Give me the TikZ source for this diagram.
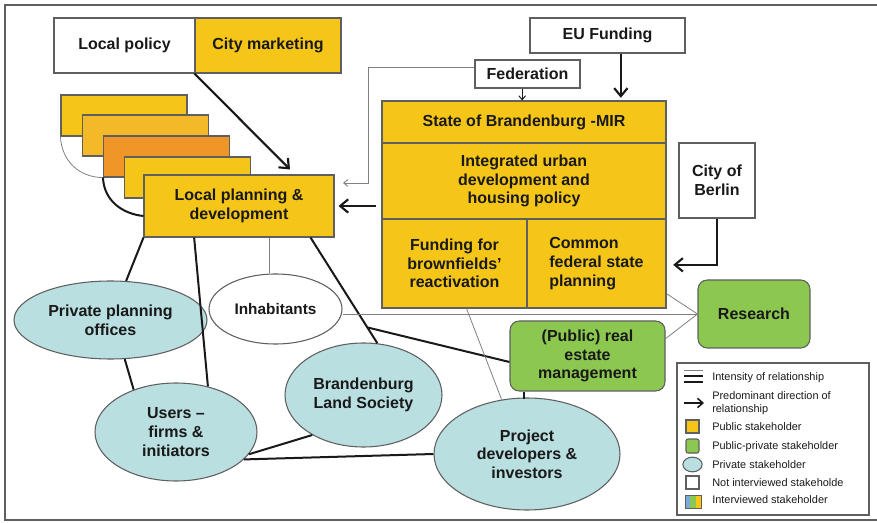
\documentclass[tikz,border=0pt]{standalone}
\usepackage{fontspec}
\setmainfont{Liberation Sans}
\usetikzlibrary{shapes.geometric,arrows.meta,calc}

\definecolor{pubyellow}{RGB}{245,198,24}
\definecolor{pubamber}{RGB}{243,185,40}
\definecolor{puborange}{RGB}{240,150,40}
\definecolor{ppgreen}{RGB}{140,200,80}
\definecolor{privblue}{RGB}{185,223,225}
\definecolor{stripeblue}{RGB}{120,170,220}
\definecolor{edgegray}{RGB}{95,95,95}
\definecolor{inkblack}{RGB}{25,25,25}

\tikzset{
  lbl/.style={font=\bfseries\fontsize{12}{14}\selectfont, text=inkblack, align=center},
  stakebox/.style={lbl, draw=edgegray, line width=0.8pt, inner sep=0pt},
  pubbox/.style={stakebox, fill=pubyellow},
  nonbox/.style={stakebox, fill=white},
  ppbox/.style={stakebox, fill=ppgreen, rounded corners=7pt},
  privell/.style={stakebox, ellipse, fill=privblue},
  strong/.style={line width=1.5pt, inkblack},
  weak/.style={line width=0.6pt, gray},
  bigarrow/.style={-{Straight Barb[length=6pt,width=10pt]}, line width=1.6pt, inkblack},
  thinarrow/.style={-{Straight Barb[length=3pt,width=5pt]}, line width=0.7pt},
  legtext/.style={font=\fontsize{8.2}{9.8}\selectfont, text=inkblack, anchor=west, align=left, inner sep=0pt}
}

\begin{document}
\begin{tikzpicture}[x=0.75pt,y=-0.75pt]
  \useasboundingbox (0,0) rectangle (877,523);
  % frame
  \draw[line width=1.1pt, edgegray] (877,5) -- (5,5) -- (5,520) -- (877,520);

  % top boxes
  \node[nonbox, minimum width=105.75pt, minimum height=41.25pt] (policy) at (124.5,45.5) {Local policy};
  \node[pubbox, minimum width=109.5pt, minimum height=41.25pt] (cm) at (268,45.5) {City marketing};
  \node[nonbox, minimum width=116.25pt, minimum height=26.25pt] (eu) at (607.5,35.5) {EU Funding};
  \node[nonbox, minimum width=78.75pt, minimum height=21pt] (fed) at (527.5,74) {Federation};

  % local planning stack
  \node[pubbox, minimum width=94.5pt, minimum height=30.75pt] (s1) at (124,115.5) {};
  \node[pubbox, fill=pubamber, minimum width=94.5pt, minimum height=30.75pt] (s2) at (145.5,135.5) {};
  \node[pubbox, fill=puborange, minimum width=94.5pt, minimum height=30.75pt] (s3) at (166.5,156.5) {};
  \node[pubbox, minimum width=94.5pt, minimum height=30.75pt] (s4) at (187.5,177.5) {};
  \node[pubbox, minimum width=142.5pt, minimum height=46.5pt] (lp) at (239,206) {Local planning \&\\development};
  \draw[weak] (s1.south west) .. controls +(1,24) and +(-24,0) .. (s3.south west);
  \draw[strong] (s3.south west) .. controls +(1,24) and +(-20,-2) .. ([yshift=-7.5pt]lp.west);

  % State of Brandenburg
  \node[pubbox, minimum width=213pt, minimum height=31.5pt] (mir) at (524,122) {State of Brandenburg -MIR};
  \node[pubbox, minimum width=213pt, minimum height=57pt] (integ) at (524,181) {Integrated urban\\development and\\housing policy};
  \node[pubbox, minimum width=108.75pt, minimum height=66.75pt] (fund) at (454.5,263.5) {Funding for\\brownfields’\\reactivation};
  \node[pubbox, align=left, minimum width=104.25pt, minimum height=66.75pt] (common) at (596.5,263.5) {Common\\federal state\\planning};
  \node[nonbox, minimum width=57pt, minimum height=56.25pt] (berlin) at (717,180.5) {City of\\Berlin};

  % public-private
  \node[ppbox, minimum width=84pt, minimum height=51pt] (res) at (754,314) {Research};
  \node[ppbox, minimum width=116.25pt, minimum height=52.5pt] (re) at (587.5,356) {(Public) real\\estate\\management};

  % private
  \node[privell, minimum width=144.75pt, minimum height=58.5pt] (ppo) at (110.5,320) {Private planning\\offices};
  \node[stakebox, ellipse, fill=white, font=\bfseries\fontsize{11.5}{14}\selectfont, minimum width=99.75pt, minimum height=52.5pt] (inh) at (275.5,309) {Inhabitants};
  \node[privell, minimum width=121.5pt, minimum height=73.5pt] (us) at (176,432) {Users –\\firms \&\\initiators};
  \node[privell, minimum width=117.75pt, minimum height=78pt] (bls) at (363.5,395) {Brandenburg\\Land Society};
  \node[privell, minimum width=139.5pt, minimum height=84pt] (pd) at (527,454) {Project\\developers \&\\investors};

  % arrows
  \draw[bigarrow] (cm.south west) -- ($(lp.north)+(51,-5)$);
  \draw[bigarrow] ([xshift=10pt]eu.south) -- ([xshift=10pt,yshift=2pt]eu.south |- mir.north);
  \draw[thinarrow, inkblack] ([xshift=-4pt]fed.south) -- ([xshift=-4pt]fed.south |- mir.north);
  \coordinate (fedend) at (343,183);
  \draw[thinarrow, gray] ([yshift=5pt]fed.west) -| ($(fedend)+(25,0)$) -- (fedend);
  \draw[bigarrow] ([xshift=-4pt]integ.west |- lp.east) -- ([xshift=3pt]lp.east);
  \draw[bigarrow] (berlin.south) |- ([xshift=5pt,yshift=-1pt]common.east);

  % relationships
  \draw[strong] (lp.south west) -- (ppo);
  \draw[strong] ([xshift=38pt]lp.south west) -- (us.55);
  \draw[weak] ([xshift=23pt]lp.south) -- ([xshift=23pt]lp.south |- inh.north);
  \draw[strong] ([xshift=-18pt]lp.south east) -- (bls.75) coordinate[pos=0.85] (fork);
  \draw[strong] (fork) -- ([yshift=-4.5pt]re.west);
  \draw[strong] (ppo.-70) -- (us.135);
  \draw[strong] (us.-17) -- (bls.218);
  \draw[strong] (us.-22) -- (pd.west);
  \draw[strong] ([xshift=-48pt]re.south) -- ([xshift=-48pt,yshift=-1pt]re.south |- pd.north);
  \draw[weak] ([xshift=9pt]fund.south) -- (pd.115);
  \draw[weak] (res.west) -- (res.west -| inh.east);
  \draw[weak] ($(common.east)!0.67!(common.south east)$) -- (res.west);
  \draw[weak] ([yshift=13pt]re.east) -- (res.west);

  % legend
  \node[draw=edgegray, line width=0.8pt, minimum width=144pt, minimum height=114pt, inner sep=0pt] (legend) at (773,439) {};
  \draw[weak] (684,370) -- (703,370);
  \draw[strong, line width=1.3pt] (684,376) -- (703,376);
  \draw[strong, line width=1.3pt] (684,382) -- (703,382);
  \node[legtext] (lgint) at (712,378) {Intensity of relationship};
  \draw[-{Straight Barb[length=4pt,width=7pt]}, line width=1.2pt, inkblack] (684,403) -- (704,403);
  \node[legtext] (lgdir) at (712,403.5) {Predominant direction of\\relationship};
  \node[pubbox, minimum width=9.75pt, minimum height=9.75pt] (lgpub) at (692.5,426.5) {};
  \node[legtext] (lgpubt) at (712,427) {Public stakeholder};
  \node[ppbox, rounded corners=1.5pt, minimum width=9.75pt, minimum height=10.5pt] (lgpp) at (692.5,446) {};
  \node[legtext] (lgppt) at (712,447) {Public-private stakeholder};
  \node[privell, minimum width=14.5pt, minimum height=11pt] (lgpriv) at (692.5,464.5) {};
  \node[legtext] (lgprivt) at (712,465) {Private stakeholder};
  \node[nonbox, minimum width=9.75pt, minimum height=9.75pt] (lgnon) at (692.5,482.5) {};
  \node[legtext] (lgnont) at (712,483) {Not interviewed stakeholde};
  \fill[stripeblue] (685,495) rectangle (690.3,508);
  \fill[ppgreen] (690.3,495) rectangle (695.7,508);
  \fill[pubyellow] (695.7,495) rectangle (701,508);
  \draw[edgegray, line width=0.6pt] (685,495) rectangle (701,508);
  \node[legtext] (lgint2) at (712,500) {Interviewed stakeholder};
\end{tikzpicture}
\end{document}
